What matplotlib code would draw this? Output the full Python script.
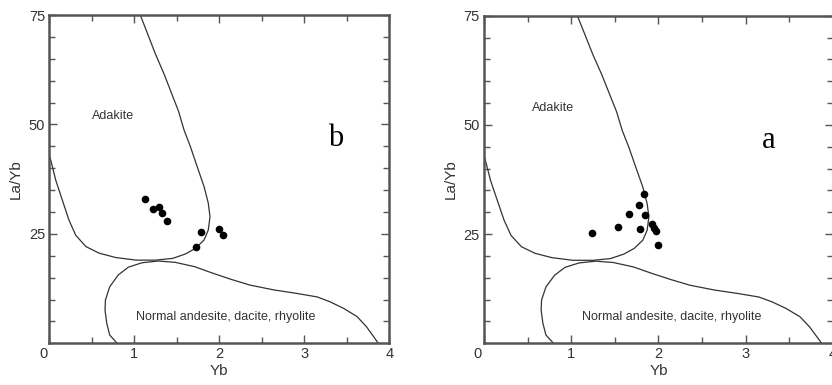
import numpy as np
import matplotlib
matplotlib.use('Agg')
import matplotlib.pyplot as plt
from matplotlib.transforms import ScaledTranslation

plt.rcParams['font.family'] = ['Liberation Sans', 'DejaVu Sans']

# granice pol (Yb, La/Yb)
adakit_x = [1.07, 1.16, 1.25, 1.35, 1.44, 1.52, 1.585, 1.66, 1.74, 1.82, 1.87, 1.89,
            1.87, 1.82, 1.72, 1.60, 1.45, 1.25, 1.02, 0.78, 0.585, 0.43, 0.31, 0.23,
            0.153, 0.075, 0.016, 0.0]
adakit_y = [75.0, 70.5, 66.0, 61.5, 57.0, 53.0, 48.7, 44.9, 40.3, 35.8, 32.0, 28.9,
            25.9, 23.6, 21.7, 20.4, 19.4, 19.0, 19.0, 19.6, 20.6, 22.1, 24.7, 28.2,
            32.7, 37.3, 41.9, 43.0]

normal_x = [0.82, 0.71, 0.675, 0.655, 0.66, 0.71, 0.81, 0.93, 1.09, 1.28, 1.48, 1.71,
            1.91, 2.14, 2.36, 2.64, 2.91, 3.15, 3.30, 3.46, 3.62, 3.73, 3.83, 3.87]
normal_y = [-0.5, 1.9, 4.6, 7.6, 9.9, 12.9, 15.6, 17.4, 18.4, 18.8, 18.5, 17.5,
            16.1, 14.6, 13.3, 12.2, 11.4, 10.6, 9.5, 8.0, 6.1, 3.8, 1.1, 0.0]

# probki - panel b
b_yb = [1.13, 1.22, 1.29, 1.32, 1.38, 1.78, 1.73, 1.99, 2.04]
b_layb = [33.0, 30.6, 31.1, 29.7, 27.9, 25.5, 22.1, 26.2, 24.7]

# probki - panel a
a_yb = [1.24, 1.535, 1.665, 1.78, 1.83, 1.84, 1.79, 1.93, 1.95, 1.97, 1.99]
a_layb = [25.2, 26.6, 29.5, 31.7, 34.1, 29.3, 26.2, 27.3, 26.5, 25.7, 22.5]

fig = plt.figure(figsize=(8.32, 3.85), dpi=100)
ax_b = fig.add_axes([0.0593, 0.1083, 0.4087, 0.8527])
ax_a = fig.add_axes([0.5817, 0.1083, 0.4195, 0.8510])

panele = [
    (ax_b, b_yb, b_layb, 'b', (0.75, 52.0), (2.08, 5.9), (3.37, 46.8)),
    (ax_a, a_yb, a_layb, 'a', (0.79, 53.8), (2.15, 6.1), (3.26, 46.4)),
]

for ax, xs, ys, litera, poz_adak, poz_norm, poz_lit in panele:
    ax.plot(adakit_x, adakit_y, color='#333333', lw=0.9)
    ax.plot(normal_x, normal_y, color='#333333', lw=0.9)
    ax.plot(xs, ys, 'o', color='black', markersize=5.5, markeredgewidth=0)

    ax.text(*poz_adak, 'Adakite', fontsize=9, color='#333333', ha='center', va='center')
    ax.text(*poz_norm, 'Normal andesite, dacite, rhyolite', fontsize=9, color='#333333',
            ha='center', va='center')
    ax.text(*poz_lit, litera, fontsize=22, family='Liberation Serif', ha='center', va='center')

    ax.set_xlim(0, 4)
    ax.set_ylim(0, 75)
    ax.set_xticks([0, 1, 2, 3, 4])
    ax.set_yticks([25, 50, 75])
    ax.set_xticks(np.arange(0.5, 4, 1.0), minor=True)
    ax.set_yticks([5, 10, 15, 20, 30, 35, 40, 45, 55, 60, 65, 70], minor=True)
    ax.tick_params(which='both', direction='in', top=True, right=True,
                   color='#555555', labelsize=10.5, labelcolor='#333333')
    ax.tick_params(which='major', length=6, width=1, pad=3)
    ax.tick_params(which='minor', length=4, width=1)
    for s in ax.spines.values():
        s.set_color('#555555')
        s.set_linewidth(1.8)
    ax.set_xlabel('Yb', fontsize=11, color='#333333', labelpad=2)
    ax.set_ylabel('La/Yb', fontsize=11, color='#333333', labelpad=4)

    # "0" troche na lewo od osi
    lab0 = ax.get_xticklabels()[0]
    lab0.set_transform(lab0.get_transform() + ScaledTranslation(-6 / 100, 0, fig.dpi_scale_trans))

fig.savefig('out.png', dpi=100)
